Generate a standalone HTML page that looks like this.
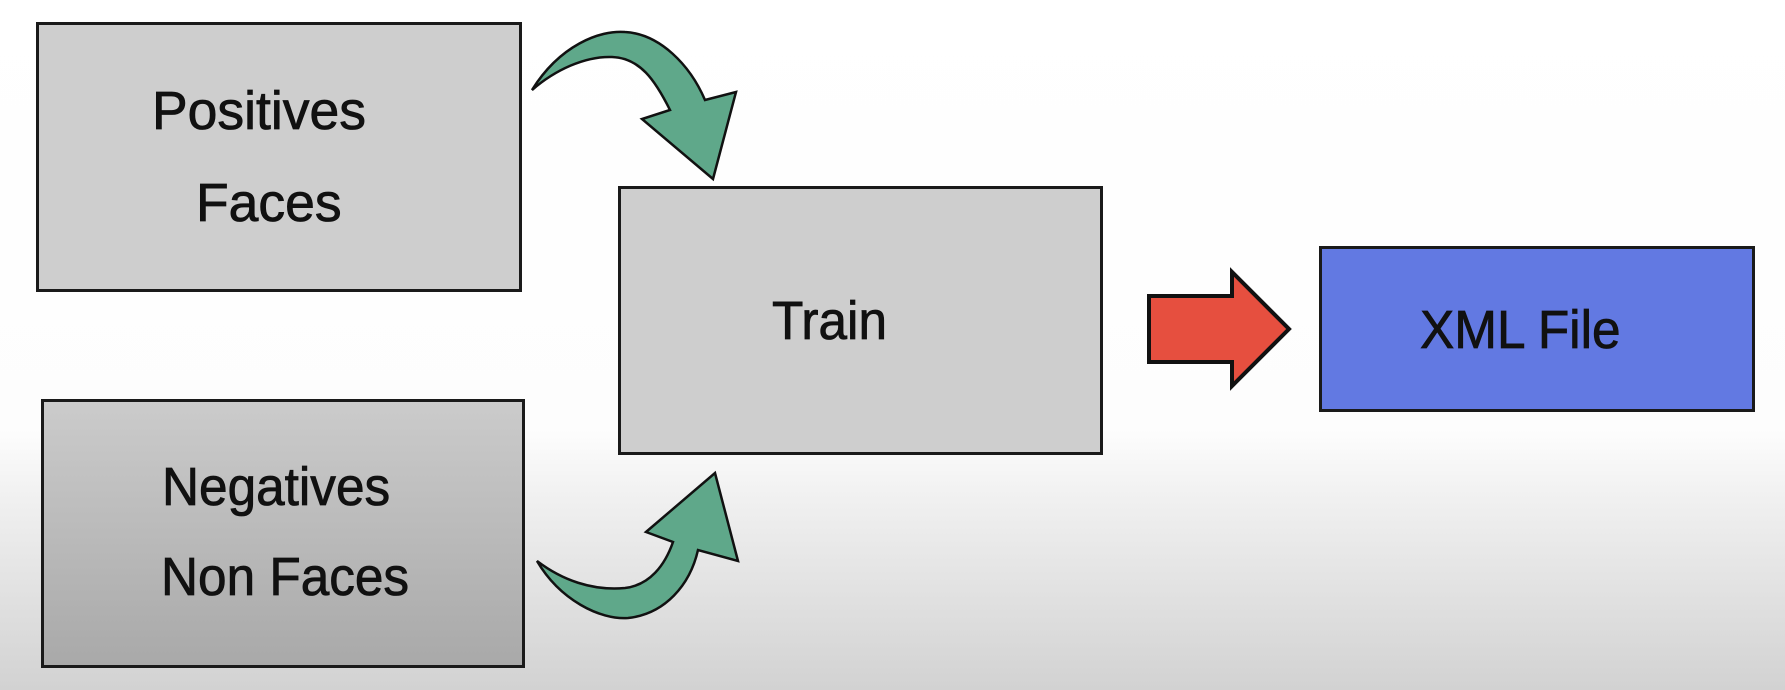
<!DOCTYPE html>
<html><head><style>
html,body{margin:0;padding:0}
body{width:1785px;height:690px;position:relative;overflow:hidden;background:linear-gradient(to bottom,#fff 0px,#fdfdfd 430px,#f0f0f0 500px,#d2d2d2 690px);font-family:"Comic Sans MS","Liberation Sans",sans-serif}
.b{position:absolute;box-sizing:border-box;border:3px solid #1a1a1a;background:#cecece}
.t{position:absolute;font-size:54px;color:#111;white-space:nowrap;transform:scaleX(0.95);transform-origin:left;-webkit-text-stroke:0.8px #111}
</style></head><body>
<div class="b" style="left:36px;top:22px;width:486px;height:270px"></div>
<div class="b" style="left:41px;top:399px;width:484px;height:269px;background:linear-gradient(#cbcbcb,#a9a9a9)"></div>
<div class="b" style="left:618px;top:186px;width:485px;height:269px"></div>
<div class="b" style="left:1319px;top:246px;width:436px;height:166px;background:#6279e2"></div>
<div class="t" style="left:152px;top:80px;transform:scaleX(0.99)">Positives</div>
<div class="t" style="left:196px;top:172px;transform:scaleX(0.99)">Faces</div>
<div class="t" style="left:162px;top:456px">Negatives</div>
<div class="t" style="left:161px;top:546px">Non Faces</div>
<div class="t" style="left:772px;top:290px">Train</div>
<div class="t" style="left:1420px;top:299px">XML File</div>
<svg width="1785" height="690" style="position:absolute;left:0;top:0">
<path d="M532,90 C560,45 600,30 625,32 C660,34 690,65 705,100 L736,92 L713,179 L642,119 L670,110 C655,80 640,58 612,57 C585,56 555,70 532,90 Z" fill="#5fa88a" stroke="#111" stroke-width="2.5" stroke-linejoin="miter"/>
<path d="M537,561 C560,600 600,620 628,618 C665,614 690,585 698,550 L738,561 L715,473 L646,532 L673,542 C665,565 650,585 625,588 C592,591 562,580 537,561 Z" fill="#5fa88a" stroke="#111" stroke-width="2.5"/>
<path d="M1149,296 L1232,296 L1232,272 L1289,329 L1232,386 L1232,362 L1149,362 Z" fill="#e64f3f" stroke="#111" stroke-width="4"/>
</svg>
</body></html>
